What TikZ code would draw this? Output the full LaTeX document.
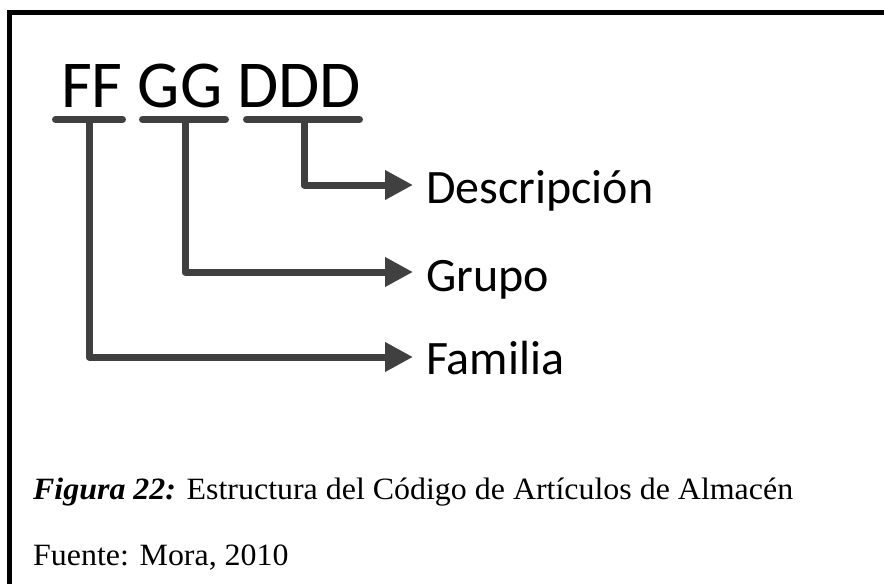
\documentclass[tikz,border=0pt]{standalone}
\usepackage{fontspec}
\setmainfont{Liberation Serif}
\newfontfamily\calib{Carlito}
\usetikzlibrary{arrows.meta}
\definecolor{linegray}{HTML}{404040}
\begin{document}
\begin{tikzpicture}[x=1pt,y=-1pt,
  conn/.style={draw=linegray, line width=7pt, line join=round, -{Triangle[length=28pt,width=28pt]}},
  bar/.style={draw=linegray, line width=7pt, line cap=round},
  codetext/.style={font=\calib\fontsize{67}{80}\selectfont, inner sep=0pt, anchor=base west},
  lab/.style={font=\calib\fontsize{48}{58}\selectfont, inner sep=0pt, anchor=base west},
  captext/.style={font=\fontsize{31}{37}\selectfont, inner sep=0pt, anchor=base west}]
\useasboundingbox (0,0) rectangle (884,584);
% frame
\draw[line width=5pt] (9,584) -- (9,12.5) -- (884,12.5);
% code
\node[codetext] (code) at (61,107) {FF GG DDD};
% underline bars
\draw[bar] (55.5,119.5) -- (122.5,119.5);
\draw[bar] (142.5,119.5) -- (225.5,119.5);
\draw[bar] (246.5,119.5) -- (359.5,119.5);
% connector anchors
\coordinate (fs) at (89,119.5);
\coordinate (gs) at (185,119.5);
\coordinate (ds) at (304,119.5);
\coordinate (dt) at (413,185);
\coordinate (gt) at (413,272);
\coordinate (ft) at (413,357);
% labels
\node[lab] (desc) at (426,203) {Descripción};
\node[lab] (grupo) at (426,291) {Grupo};
\node[lab] (fam) at (426,374) {Familia};
% connectors
\draw[conn] (ds) |- (dt);
\draw[conn] (gs) |- (gt);
\draw[conn] (fs) |- (ft);
% caption
\node[captext] (fig) at (33,499) {\scalebox{1.03}[1]{\textbf{\textit{Figura 22:}} Estructura del Código de Artículos de Almacén}};
\node[captext] (src) at (33,565) {\scalebox{1.03}[1]{Fuente: Mora, 2010}};
\end{tikzpicture}
\end{document}
